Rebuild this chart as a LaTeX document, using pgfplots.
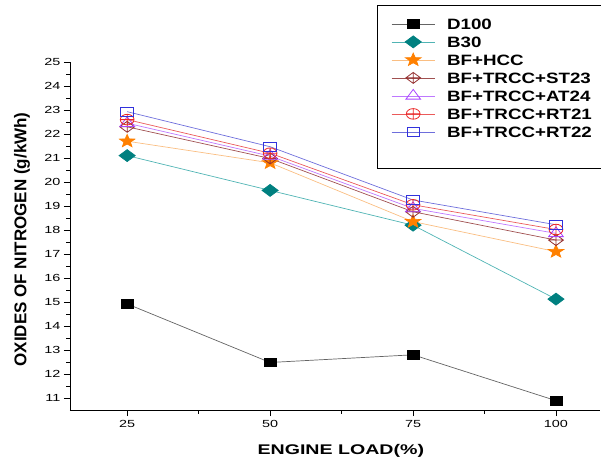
\documentclass[border=0pt]{standalone}
\usepackage{fontspec}
\setmainfont{Liberation Sans}
\newfontfamily\tickfont{Liberation Sans}[FakeStretch=1.4]
\newfontfamily\legfont{Liberation Sans}[FakeStretch=1.25]
\newfontfamily\xlabfont{Liberation Sans}[FakeStretch=1.4]
\usepackage{pgfplots}
\usepackage{pgfplotstable}
\pgfplotsset{compat=1.18}
\usetikzlibrary{plotmarks}

\definecolor{dline}{RGB}{100,100,100}
\definecolor{bmark}{RGB}{0,128,128}
\definecolor{bline}{RGB}{80,180,180}
\definecolor{hmark}{RGB}{255,128,0}
\definecolor{hline}{RGB}{250,190,130}
\definecolor{smark}{RGB}{150,50,50}
\definecolor{sline}{RGB}{160,80,80}
\definecolor{amark}{RGB}{170,70,255}
\definecolor{aline}{RGB}{190,120,255}
\definecolor{rmark}{RGB}{235,40,40}
\definecolor{rline}{RGB}{235,90,90}
\definecolor{qmark}{RGB}{50,50,220}
\definecolor{qline}{RGB}{110,110,220}

\pgfdeclareplotmark{wdiamond*}{%
 \pgfpathmoveto{\pgfqpoint{0pt}{\pgfplotmarksize}}%
 \pgfpathlineto{\pgfqpoint{\pgfplotmarksize}{0pt}}%
 \pgfpathlineto{\pgfqpoint{0pt}{-\pgfplotmarksize}}%
 \pgfpathlineto{\pgfqpoint{-\pgfplotmarksize}{0pt}}%
 \pgfpathclose\pgfusepathqfillstroke}
\pgfdeclareplotmark{wdiamondplus}{%
 \pgfpathmoveto{\pgfqpoint{0pt}{\pgfplotmarksize}}%
 \pgfpathlineto{\pgfqpoint{\pgfplotmarksize}{0pt}}%
 \pgfpathlineto{\pgfqpoint{0pt}{-\pgfplotmarksize}}%
 \pgfpathlineto{\pgfqpoint{-\pgfplotmarksize}{0pt}}%
 \pgfpathclose
 \pgfpathmoveto{\pgfqpoint{0pt}{\pgfplotmarksize}}%
 \pgfpathlineto{\pgfqpoint{0pt}{-\pgfplotmarksize}}%
 \pgfpathmoveto{\pgfqpoint{-\pgfplotmarksize}{0pt}}%
 \pgfpathlineto{\pgfqpoint{\pgfplotmarksize}{0pt}}%
 \pgfusepathqstroke}
\pgfdeclareplotmark{fstar}{%
 \pgfpathmoveto{\pgfqpointpolar{90}{\pgfplotmarksize}}%
 \pgfpathlineto{\pgfqpointpolar{126}{0.42\pgfplotmarksize}}%
 \pgfpathlineto{\pgfqpointpolar{162}{\pgfplotmarksize}}%
 \pgfpathlineto{\pgfqpointpolar{198}{0.42\pgfplotmarksize}}%
 \pgfpathlineto{\pgfqpointpolar{234}{\pgfplotmarksize}}%
 \pgfpathlineto{\pgfqpointpolar{270}{0.42\pgfplotmarksize}}%
 \pgfpathlineto{\pgfqpointpolar{306}{\pgfplotmarksize}}%
 \pgfpathlineto{\pgfqpointpolar{342}{0.42\pgfplotmarksize}}%
 \pgfpathlineto{\pgfqpointpolar{18}{\pgfplotmarksize}}%
 \pgfpathlineto{\pgfqpointpolar{54}{0.42\pgfplotmarksize}}%
 \pgfpathclose\pgfusepathqfillstroke}

\pgfplotstableread{
x   D100  B30   HCC   ST23  AT24  RT21  RT22
25  14.92 21.10 21.70 22.30 22.45 22.60 22.93
50  12.48 19.65 20.80 20.98 21.08 21.20 21.47
75  12.80 18.20 18.35 18.76 18.90 19.05 19.25
100 10.89 15.12 17.10 17.58 17.86 18.02 18.22
}\datatable

\begin{document}
\begin{tikzpicture}
\useasboundingbox (-70pt,-51pt) rectangle (531pt,410pt);
\begin{axis}[
  scale only axis,
  width=530pt, height=348pt,
  xmin=15, xmax=107.7,
  ymin=10.5, ymax=25,
  axis x line=bottom, axis y line=left,
  axis line style={-, line width=0.9pt},
  xtick={25,50,75,100},
  ytick={11,12,...,25},
  minor x tick num=1, minor y tick num=1,
  tick align=outside,
  major tick length=6pt, minor tick length=3.5pt,
  every tick/.style={black, line width=0.9pt},
  /pgf/number format/assume math mode=true,
  ticklabel style={font=\tickfont\fontsize{10.3}{12}\selectfont},
  xticklabel style={yshift=-1pt},
  xlabel={\xlabfont\bfseries ENGINE LOAD(\%)},
  xlabel style={font=\fontsize{14}{16}\selectfont, at={(axis description cs:0.511,0)}, anchor=center, yshift=-41pt},
  ylabel={\bfseries OXIDES OF NITROGEN (g/kWh)},
  ylabel style={font=\fontsize{17}{19}\selectfont, at={(axis description cs:0,0.49)}, anchor=center, yshift=48pt},
  clip=false,
  legend image code/.code={\draw[mark repeat=2,mark phase=2,#1] plot coordinates {(0pt,0pt) (21.5pt,0pt) (43pt,0pt)};},
  legend style={at={(rel axis cs:0.5792,1.1638)}, anchor=north west,
    draw=black, line width=0.8pt, inner xsep=14pt, inner ysep=11pt,
    font=\legfont\bfseries\fontsize{15}{15}\selectfont,
    row sep=3pt,
    /tikz/every odd column/.append style={column sep=10pt},
    nodes={inner sep=2pt, text height=11pt, text depth=0pt, anchor=west}},
  legend cell align=left,
]
\addplot[color=dline, line width=0.7pt, mark=square*, mark size=4.3pt,
  mark options={solid, draw=black, fill=black, xscale=1.4}] table[x=x,y=D100] {\datatable};
\addlegendentry{D100}
\addplot[color=bline, line width=0.7pt, mark=wdiamond*, mark size=6pt,
  mark options={solid, draw=bmark, fill=bmark, xscale=1.35}] table[x=x,y=B30] {\datatable};
\addlegendentry{B30}
\addplot[color=hline, line width=0.7pt, mark=fstar, mark size=6.8pt,
  mark options={solid, draw=hmark, fill=hmark, xscale=1.2}] table[x=x,y=HCC] {\datatable};
\addlegendentry{BF+HCC}
\addplot[color=sline, line width=0.7pt, mark=wdiamondplus, mark size=5.5pt,
  mark options={solid, draw=smark, fill=none, xscale=1.35, line width=0.8pt}] table[x=x,y=ST23] {\datatable};
\addlegendentry{BF+TRCC+ST23}
\addplot[color=aline, line width=0.7pt, mark=triangle, mark size=6.5pt,
  mark options={solid, draw=amark, fill=none, xscale=1.3, line width=0.8pt}] table[x=x,y=AT24] {\datatable};
\addlegendentry{BF+TRCC+AT24}
\addplot[color=rline, line width=0.7pt, mark=oplus, mark size=5.3pt,
  mark options={solid, draw=rmark, fill=none, xscale=1.3, line width=0.8pt}] table[x=x,y=RT21] {\datatable};
\addlegendentry{BF+TRCC+RT21}
\addplot[color=qline, line width=0.7pt, mark=square, mark size=4.6pt,
  mark options={solid, draw=qmark, fill=white, xscale=1.37, line width=0.8pt}] table[x=x,y=RT22] {\datatable};
\addlegendentry{BF+TRCC+RT22}
\addlegendimage{empty legend}
\addlegendentry{}
\end{axis}
\end{tikzpicture}
\end{document}
